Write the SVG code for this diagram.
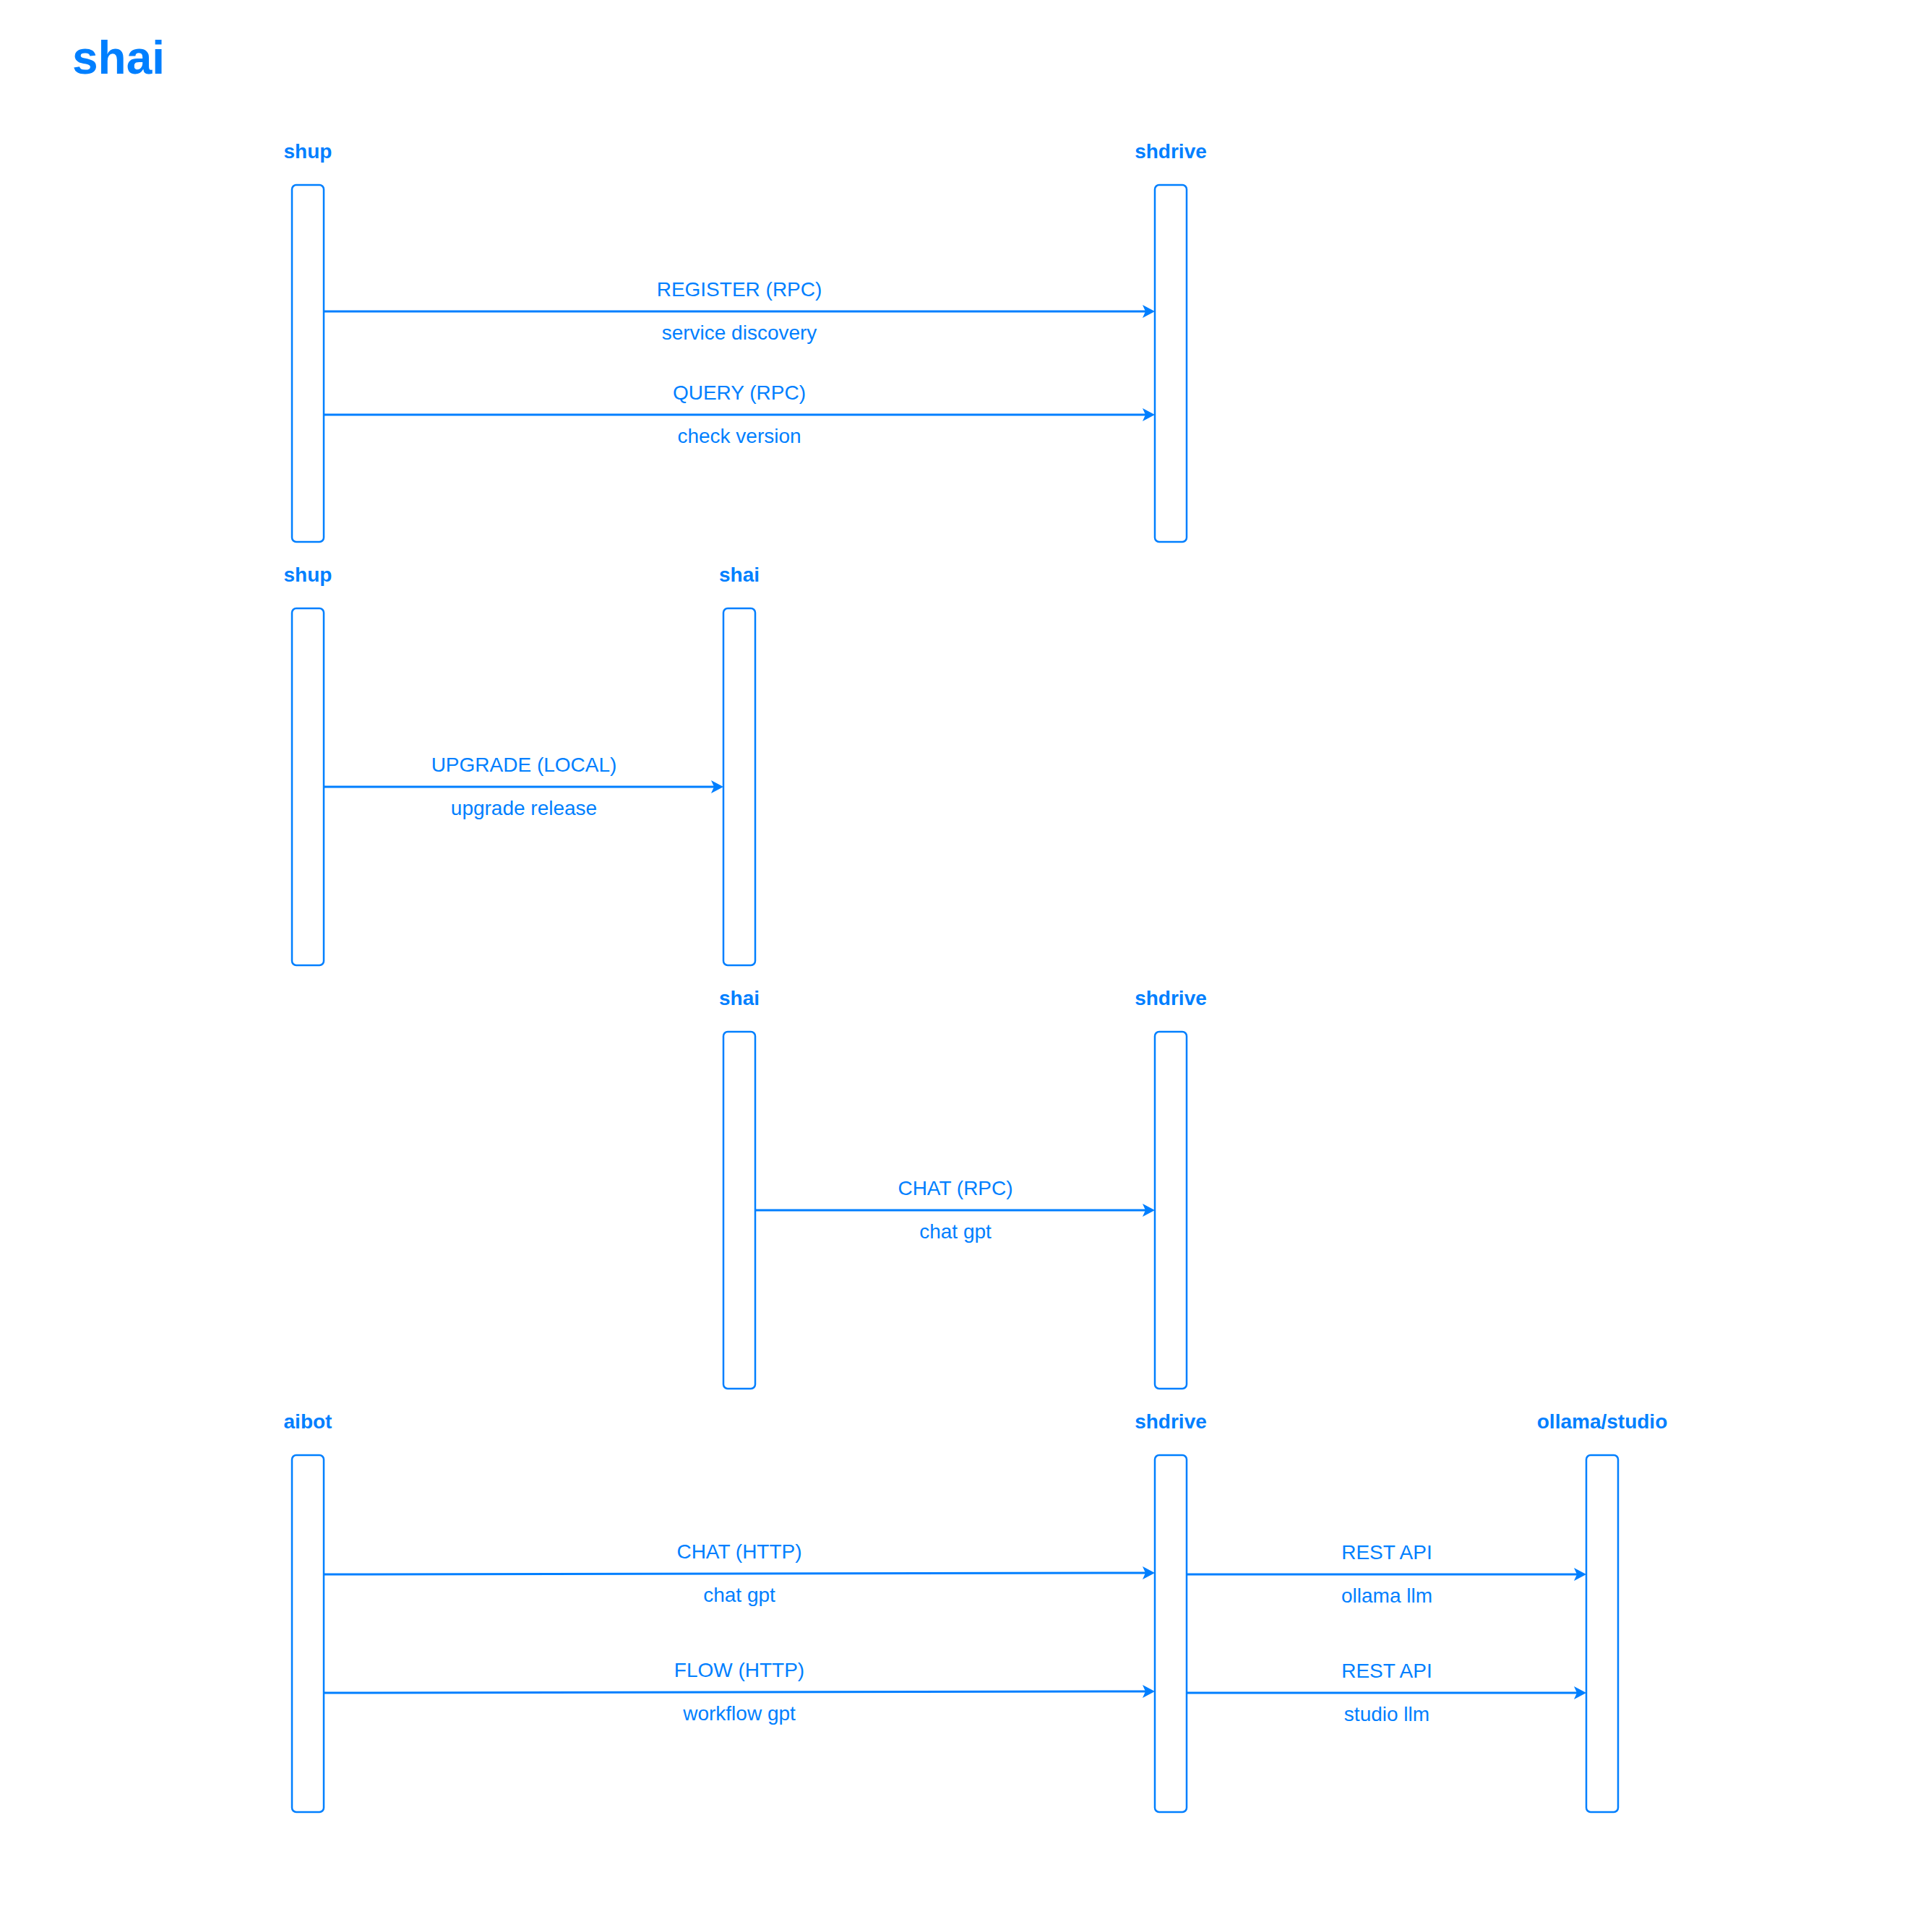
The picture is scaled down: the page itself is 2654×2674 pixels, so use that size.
<svg xmlns="http://www.w3.org/2000/svg" width="2654" height="2674" viewBox="0 0 2654 2674">
<defs>
<style>
.box{fill:#FFFFFF;stroke:#007FFF;stroke-width:2.5}
.hdr{font-family:"Liberation Sans",Arial,sans-serif;font-weight:bold;font-size:28px;fill:#007FFF;text-anchor:middle}
.msg{font-family:"Liberation Sans",Arial,sans-serif;font-size:28px;fill:#007FFF;text-anchor:middle}
.ttl{font-family:"Liberation Sans",Arial,sans-serif;font-weight:bold;font-size:64px;fill:#007FFF}
.arr{stroke:#007FFF;stroke-width:3;fill:none;marker-end:url(#ah)}
</style>
<marker id="ah" markerUnits="userSpaceOnUse" viewBox="0 -10 20 20" markerWidth="20" markerHeight="20" refX="6" refY="0" orient="auto">
<path d="M0,-9 L17,0 L0,9 L4,0 Z" fill="#007FFF"/>
</marker>
</defs>
<rect width="2654" height="2674" fill="#FFFFFF"/>
<text class="ttl" x="100" y="102">shai</text>

<g id="row1-shup"><text class="hdr" x="426" y="219">shup</text><rect class="box" x="404" y="256" width="44" height="494" rx="6"/></g>
<g id="row1-shdrive"><text class="hdr" x="1620" y="219">shdrive</text><rect class="box" x="1598" y="256" width="44" height="494" rx="6"/></g>

<g id="row2-shup"><text class="hdr" x="426" y="805">shup</text><rect class="box" x="404" y="842" width="44" height="494" rx="6"/></g>
<g id="row2-shai"><text class="hdr" x="1023" y="805">shai</text><rect class="box" x="1001" y="842" width="44" height="494" rx="6"/></g>

<g id="row3-shai"><text class="hdr" x="1023" y="1391">shai</text><rect class="box" x="1001" y="1428" width="44" height="494" rx="6"/></g>
<g id="row3-shdrive"><text class="hdr" x="1620" y="1391">shdrive</text><rect class="box" x="1598" y="1428" width="44" height="494" rx="6"/></g>

<g id="row4-aibot"><text class="hdr" x="426" y="1977">aibot</text><rect class="box" x="404" y="2014" width="44" height="494" rx="6"/></g>
<g id="row4-shdrive"><text class="hdr" x="1620" y="1977">shdrive</text><rect class="box" x="1598" y="2014" width="44" height="494" rx="6"/></g>
<g id="row4-ollama"><text class="hdr" x="2217" y="1977">ollama/studio</text><rect class="box" x="2195" y="2014" width="44" height="494" rx="6"/></g>

<g id="connectors">
<line class="arr" x1="448" y1="431" x2="1587" y2="431"/>
<text class="msg" x="1023" y="410">REGISTER (RPC)</text>
<text class="msg" x="1023" y="470">service discovery</text>

<line class="arr" x1="448" y1="574" x2="1587" y2="574"/>
<text class="msg" x="1023" y="553">QUERY (RPC)</text>
<text class="msg" x="1023" y="613">check version</text>

<line class="arr" x1="448" y1="1089" x2="990" y2="1089"/>
<text class="msg" x="725" y="1068">UPGRADE (LOCAL)</text>
<text class="msg" x="725" y="1128">upgrade release</text>

<line class="arr" x1="1045" y1="1675" x2="1587" y2="1675"/>
<text class="msg" x="1322" y="1654">CHAT (RPC)</text>
<text class="msg" x="1322" y="1714">chat gpt</text>

<line class="arr" x1="448" y1="2179" x2="1587" y2="2177"/>
<text class="msg" x="1023" y="2157">CHAT (HTTP)</text>
<text class="msg" x="1023" y="2217">chat gpt</text>

<line class="arr" x1="448" y1="2343" x2="1587" y2="2341"/>
<text class="msg" x="1023" y="2321">FLOW (HTTP)</text>
<text class="msg" x="1023" y="2381">workflow gpt</text>

<line class="arr" x1="1642" y1="2179" x2="2184" y2="2179"/>
<text class="msg" x="1919" y="2158">REST API</text>
<text class="msg" x="1919" y="2218">ollama llm</text>

<line class="arr" x1="1642" y1="2343" x2="2184" y2="2343"/>
<text class="msg" x="1919" y="2322">REST API</text>
<text class="msg" x="1919" y="2382">studio llm</text>
</g>
</svg>
